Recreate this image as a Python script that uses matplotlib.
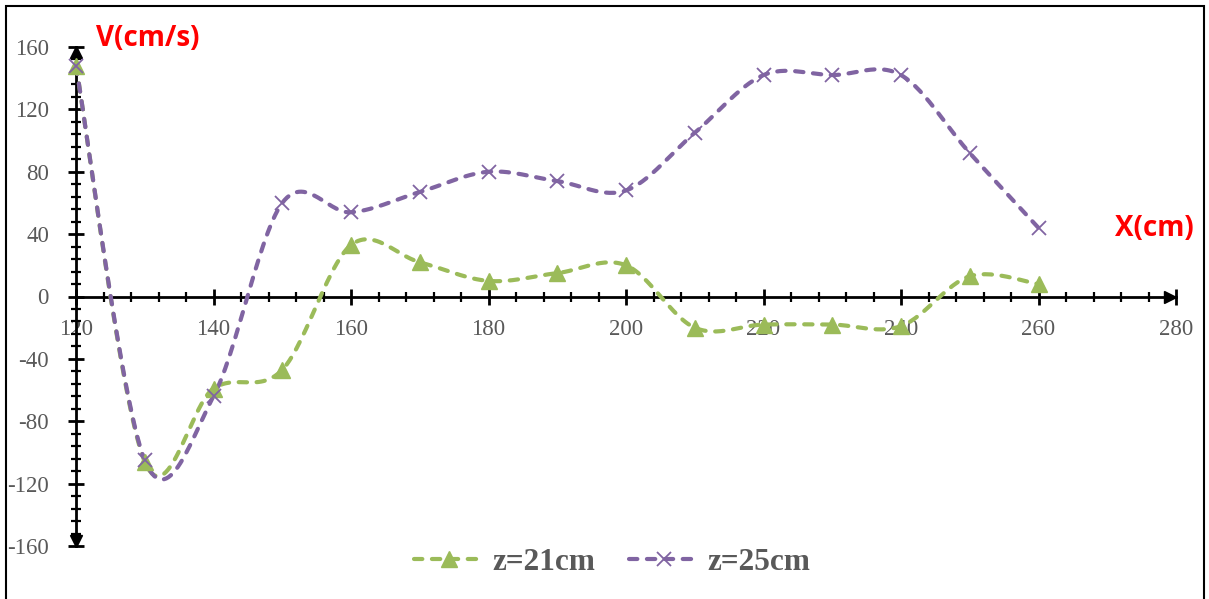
"""Velocity profiles V(x) at two depths, Excel-style smoothed dashed lines."""

import matplotlib

matplotlib.use("Agg")
import matplotlib.pyplot as plt
import numpy as np
from matplotlib.lines import Line2D
from matplotlib.patches import Rectangle
from matplotlib.ticker import MultipleLocator

plt.rcParams["axes.unicode_minus"] = False

x_cm = [120, 130, 140, 150, 160, 170, 180, 190, 200, 210, 220, 230, 240, 250, 260]
v_z21 = [148, -106, -59, -47, 33, 22, 10, 15, 20, -20, -18, -18, -19, 13, 8]
v_z25 = [148, -105, -64, 60, 54, 67, 80, 74, 68, 105, 142, 142, 142, 92, 44]

labels = ["z=21cm", "z=25cm"]
green = "#9BBB59"
purple = "#8064A2"
grey = "#595959"


def smooth(x, y, n=30):
    """Catmull-Rom style bezier smoothing, like Excel's smoothed line."""
    x = np.asarray(x, float)
    y = np.asarray(y, float)
    pts = np.column_stack([x, y])
    out = [pts[0]]
    t = np.linspace(0, 1, n)[1:, None]
    for i in range(len(pts) - 1):
        p0 = pts[i - 1] if i > 0 else pts[i]
        p1 = pts[i]
        p2 = pts[i + 1]
        p3 = pts[i + 2] if i + 2 < len(pts) else pts[i + 1]
        c1 = p1 + (p2 - p0) / 6
        c2 = p2 - (p3 - p1) / 6
        seg = ((1 - t) ** 3) * p1 + 3 * ((1 - t) ** 2) * t * c1 \
            + 3 * (1 - t) * t ** 2 * c2 + t ** 3 * p2
        out.extend(seg)
    out = np.array(out)
    return out[:, 0], out[:, 1]


W, H = 1209, 599
fig = plt.figure(figsize=(W / 100, H / 100), dpi=100)
ax = fig.add_axes([76 / W, (H - 546) / H, 1100 / W, 499 / H])

# outer chart frame
fig.patches.append(Rectangle((6 / W, -0.02), 1198 / W, 1.02 - 6 / H,
                             transform=fig.transFigure, fill=False,
                             edgecolor="black", linewidth=1.5))

line_kw = dict(lw=3, dashes=(2.0, 2.3), dash_capstyle="round")
for vals, col, mk, ms, mew in [(v_z21, green, "^", 11, 1),
                               (v_z25, purple, "x", 10, 1.3)]:
    sx, sy = smooth(x_cm, vals)
    ax.plot(sx, sy, color=col, clip_on=False, zorder=3, **line_kw)
    ax.plot(x_cm, vals, ls="none", marker=mk, ms=ms, color=col,
            mew=mew, clip_on=False, zorder=4)

ax.set_xlim(120, 280)
ax.set_ylim(-160, 160)

for s in ["top", "right"]:
    ax.spines[s].set_visible(False)
ax.spines["left"].set_position(("data", 120))
ax.spines["bottom"].set_position(("data", 0))
for s in ["left", "bottom"]:
    ax.spines[s].set_linewidth(2)
    ax.spines[s].set_zorder(2)

# arrow heads on the axes
ax.plot([279.1], [0], marker=">", ms=9, color="black", clip_on=False, zorder=2)
ax.plot([120], [156.5], marker="^", ms=9, color="black", clip_on=False, zorder=2)
ax.plot([120], [-156.5], marker="v", ms=9, color="black", clip_on=False, zorder=2)

ax.xaxis.set_major_locator(MultipleLocator(20))
ax.xaxis.set_minor_locator(MultipleLocator(4))
ax.yaxis.set_major_locator(MultipleLocator(40))
ax.yaxis.set_minor_locator(MultipleLocator(8))
ax.tick_params(which="major", direction="inout", length=11, width=2,
               labelsize=16.5, labelcolor=grey)
ax.tick_params(which="minor", direction="inout", length=7, width=1.6)
ax.tick_params(axis="y", which="major", pad=14)
ax.tick_params(axis="x", which="major", pad=11)
for lab in ax.get_xticklabels() + ax.get_yticklabels():
    lab.set_family(["Liberation Serif", "DejaVu Serif"])

fig.text(96 / W, 1 - 38 / H, "V(cm/s)", color="red", fontsize=20,
         fontweight="bold", family="Open Sans", ha="left", va="center")
fig.text(1194 / W, 1 - 228 / H, "X(cm)", color="red", fontsize=20,
         fontweight="bold", family="Open Sans", ha="right", va="center")

handles = [Line2D([], [], color=green, marker="^", ms=11, **line_kw),
           Line2D([], [], color=purple, marker="x", ms=10, mew=1.3, **line_kw)]
leg = fig.legend(handles, labels, loc="center", bbox_to_anchor=(612 / W, 1 - 562 / H),
                 ncol=2, frameon=False, handlelength=2.25, handletextpad=0.25,
                 columnspacing=1.1,
                 prop={"family": "Liberation Serif", "weight": "bold", "size": 22.5})
for t in leg.get_texts():
    t.set_color(grey)

fig.savefig("out.png", dpi=100)
